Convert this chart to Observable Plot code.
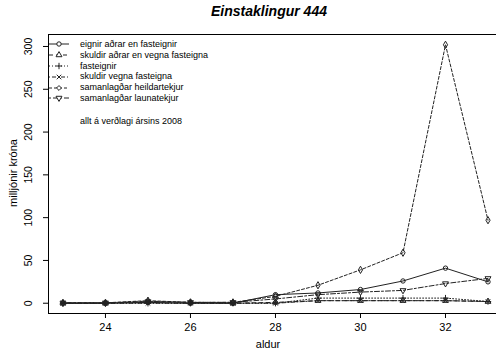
<!DOCTYPE html>
<html><head><meta charset="utf-8">
<script src="https://cdn.jsdelivr.net/npm/d3@7"></script>
<script src="https://cdn.jsdelivr.net/npm/@observablehq/plot@0.6"></script>
<style>
body{margin:0;background:#fff;font-family:"Liberation Sans",Arial,sans-serif;color:#000;}
#wrap{position:relative;width:496px;height:351px;overflow:hidden;background:#fff;}
#title{position:absolute;top:3px;left:269px;transform:translateX(-50%);font-weight:bold;font-style:italic;font-size:14px;white-space:nowrap;}
#chart{position:absolute;top:28px;left:0;}
#legend{position:absolute;left:48px;top:39px;font-size:9px;line-height:10.8px;}
#legend .row{display:flex;align-items:center;height:10.8px;white-space:nowrap;}
#legend svg{display:block;margin-right:10px;}
#note{margin-left:32px;margin-top:12px;font-size:9px;}
#xlab{position:absolute;top:338px;left:268px;transform:translateX(-50%);font-size:11px;}
#ylab{position:absolute;left:13px;top:173px;transform:translate(-50%,-50%) rotate(-90deg);font-size:11px;white-space:nowrap;}
</style></head><body>
<div id="wrap">
<div id="title">Einstaklingur 444</div>
<div id="chart"></div>
<div id="legend"></div>
<div id="xlab">aldur</div>
<div id="ylab">milljónir króna</div>
</div>
<script>
const ages = [23, 24, 25, 26, 27, 28, 29, 30, 31, 32, 33];
const eignirAdrar = [0, 0, 1, 0, 0, 10, 12, 16, 26, 41, 25];
const skuldirAdrar = [0, 0, 2, 1, 0, 1, 3, 3, 3, 3, 2];
const fasteignir = [0, 0, 0, 0, 0, 0, 6, 6, 6, 6, 2];
const skuldirVegna = [0, 0, 0, 0, 0, 0, 3, 3, 3, 3, 2];
const heildartekjur = [0.5, 0.5, 3, 1, 1, 8, 21, 39, 59, 302, 97];
const launatekjur = [0.5, 0.5, 2, 1, 1, 5, 10, 13, 15, 23, 29];
const seriesNames = ["eignir aðrar en fasteignir", "skuldir aðrar en vegna fasteigna", "fasteignir", "skuldir vegna fasteigna", "samanlagðar heildartekjur", "samanlagðar launatekjur"];
const xTicks = [24, 26, 28, 30, 32];
const yTicks = [0, 50, 100, 150, 200, 250, 300];
const note = "allt á verðlagi ársins 2008";

const values = [eignirAdrar, skuldirAdrar, fasteignir, skuldirVegna, heildartekjur, launatekjur];
const dashes = [null, "4,3", "1,2", "1,2,4,2", "3,2", "2,2,5,2"];
const symbols = ["circle", "triangle", "plus", "times", "diamond", "triangle"];
const rotates = [0, 0, 0, 0, 0, 180];

const series = seriesNames.map((name, i) => ({
  name, dash: dashes[i], symbol: symbols[i], rotate: rotates[i],
  data: ages.map((a, j) => ({age: a, value: values[i][j]}))
}));

const ink = "#222";
const marks = [Plot.frame({stroke: "black", strokeWidth: 1})];
series.forEach(s => {
  marks.push(Plot.line(s.data, {x: "age", y: "value", stroke: ink, strokeWidth: 1, strokeDasharray: s.dash}));
  marks.push(Plot.dot(s.data, {x: "age", y: "value", symbol: s.symbol, r: 2.2, stroke: ink, strokeWidth: 1, fill: "none", rotate: s.rotate}));
});
marks.push(Plot.axisX({ticks: xTicks, tickSize: 5, tickPadding: 5, fontSize: 11, label: null, tickFormat: d => String(d)}));
marks.push(Plot.axisY({ticks: yTicks, tickSize: 5, tickPadding: 12, fontSize: 10.5, label: null, tickRotate: -90, tickFormat: d => String(d)}));

const chart = Plot.plot({
  width: 496, height: 323,
  marginLeft: 48, marginRight: 0, marginTop: 6, marginBottom: 38,
  style: {fontFamily: '"Liberation Sans", Arial, sans-serif', background: "white", color: "black"},
  x: {domain: [22.66, 33.2]},
  y: {domain: [-12, 314]},
  marks
});
document.getElementById("chart").appendChild(chart);

// legend
const leg = d3.select("#legend");
const symMap = {circle: d3.symbolCircle, triangle: d3.symbolTriangle, plus: d3.symbolPlus, times: d3.symbolTimes, diamond: d3.symbolDiamond2};
series.forEach(s => {
  const row = leg.append("div").attr("class", "row");
  const svg = row.append("svg").attr("width", 22).attr("height", 10);
  svg.append("line").attr("x1", 1).attr("x2", 21).attr("y1", 5).attr("y2", 5)
    .attr("stroke", ink).attr("stroke-width", 1).attr("stroke-dasharray", s.dash);
  svg.append("path").attr("d", d3.symbol(symMap[s.symbol], 2.2 * 2.2 * Math.PI)())
    .attr("transform", `translate(11,5) rotate(${s.rotate})`)
    .attr("fill", "white").attr("stroke", ink);
  row.append("span").text(s.name);
});
leg.append("div").attr("id", "note").text(note);
</script>
</body></html>
